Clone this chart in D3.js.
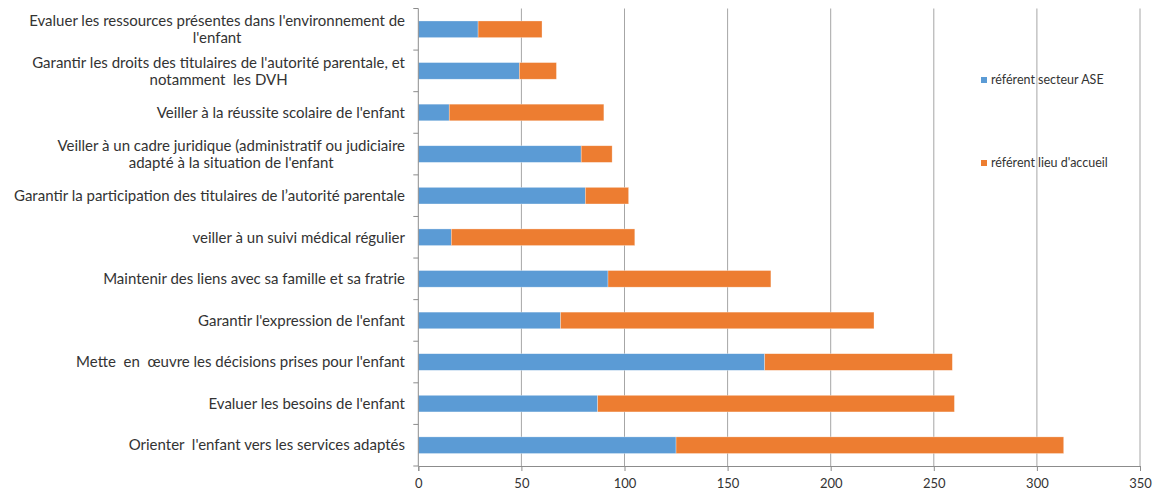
<!DOCTYPE html>
<html>
  <head>
    <meta charset="utf-8">
    <style>
    body { margin: 0; background: #fff; }
    text { font-family: Lato, "Open Sans", sans-serif; fill: #333; white-space: pre; }
    .grid line { stroke: #a6a6a6; }
    </style>
  </head>
  <body>

    <svg width="1154" height="492"></svg>

    <script src="https://cdn.jsdelivr.net/npm/d3@7/dist/d3.min.js"></script>
    <script>

      // categories top to bottom, labels already split on lines
      const categories = [
        ["Evaluer les ressources présentes dans l'environnement de", "l'enfant"],
        ["Garantir les droits des titulaires de l'autorité parentale, et", "notamment  les DVH"],
        ["Veiller à la réussite scolaire de l'enfant"],
        ["Veiller à un cadre juridique (administratif ou judiciaire", "adapté à la situation de l'enfant"],
        ["Garantir la participation des titulaires de l’autorité parentale"],
        ["veiller à un suivi médical régulier"],
        ["Maintenir des liens avec sa famille et sa fratrie"],
        ["Garantir l'expression de l'enfant"],
        ["Mette  en  œuvre les décisions prises pour l'enfant"],
        ["Evaluer les besoins de l'enfant"],
        ["Orienter  l'enfant vers les services adaptés"]
      ]
      const referentASE = [29, 49, 15, 79, 81, 16, 92, 69, 168, 87, 125]
      const referentLieu = [31, 18, 75, 15, 21, 89, 79, 152, 91, 173, 188]
      const seriesNames = ['référent secteur ASE', "référent lieu d'accueil"]
      const colors = ['#5b9bd5', '#ed7d31']
      const xTicks = [0, 50, 100, 150, 200, 250, 300, 350]

      const svg = d3.select('svg')
      const plotLeft = 418.3, plotRight = 1140, plotTop = 8.5, plotBottom = 466

      const ids = categories.map((c, i) => i)
      const x = d3.scaleLinear().domain([0, 350]).range([plotLeft, plotRight])
      const y = d3.scaleBand().domain(ids).range([plotTop, plotBottom]).paddingInner(0.6).paddingOuter(0.3)
      const band = (plotBottom - plotTop) / categories.length

      // gridlines
      svg.append('g').attr('class', 'grid')
        .selectAll('line')
        .data(xTicks.slice(1))
        .enter().append('line')
          .attr('x1', d => x(d)).attr('x2', d => x(d))
          .attr('y1', plotTop).attr('y2', plotBottom)

      const rows = ids.map(i => ({ i, ase: referentASE[i], lieu: referentLieu[i] }))
      const stacked = d3.stack().keys(['ase', 'lieu'])(rows)

      svg.append('g').selectAll('g')
        .data(stacked)
        .enter().append('g')
          .attr('fill', (d, k) => colors[k])
        .selectAll('rect')
        .data(d => d)
        .enter().append('rect')
          .attr('x', d => x(d[0]))
          .attr('width', d => x(d[1]) - x(d[0]))
          .attr('y', d => y(d.data.i))
          .attr('height', y.bandwidth())
          .attr('stroke', '#fff')
          .attr('stroke-opacity', 0.5)
          .attr('stroke-width', 0.6)

      // bottom axis
      const xAxis = svg.append('g')
        .attr('transform', 'translate(0,' + plotBottom + ')')
        .call(d3.axisBottom(x).tickValues(xTicks).tickSize(5).tickPadding(8))
      xAxis.select('.domain').attr('stroke', '#8c8c8c')
      xAxis.selectAll('.tick line').attr('stroke', '#8c8c8c')
      xAxis.selectAll('text').attr('font-size', 13).attr('fill', '#333')
        .style('font-family', 'Lato, sans-serif')

      // left axis line with ticks between categories
      const yAxis = svg.append('g')
      yAxis.append('line')
        .attr('x1', plotLeft).attr('x2', plotLeft).attr('y1', plotTop).attr('y2', plotBottom)
        .attr('stroke', '#8c8c8c')
      yAxis.selectAll('.cut')
        .data(d3.range(categories.length + 1))
        .enter().append('line')
          .attr('x1', plotLeft - 5).attr('x2', plotLeft)
          .attr('y1', k => plotTop + k * band).attr('y2', k => plotTop + k * band)
          .attr('stroke', '#8c8c8c')

      // category labels, multi-line block right-aligned, lines centred in block
      const labelRight = 405
      const lineH = 17
      categories.forEach((lines, i) => {
        const cy = y(i) + y.bandwidth() / 2
        const g = svg.append('g')
        const texts = lines.map((t, j) => g.append('text')
          .attr('font-size', 15)
          .attr('text-anchor', 'middle')
          .attr('y', cy + (j - (lines.length - 1) / 2) * lineH)
          .attr('dy', '0.35em')
          .text(t))
        const w = d3.max(texts, t => t.node().getComputedTextLength())
        texts.forEach(t => t.attr('x', labelRight - w / 2))
      })

      // legend
      const legendY = [80, 163]
      const legend = svg.append('g')
      seriesNames.forEach((name, k) => {
        legend.append('rect')
          .attr('x', 981).attr('y', legendY[k] - 3)
          .attr('width', 6).attr('height', 6)
          .attr('fill', colors[k])
        legend.append('text')
          .attr('x', 991).attr('y', legendY[k])
          .attr('dy', '0.35em')
          .attr('font-size', 12.5)
          .text(name)
      })

    </script>
  </body>
</html>
